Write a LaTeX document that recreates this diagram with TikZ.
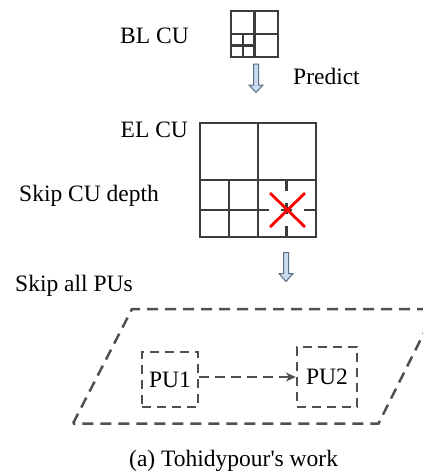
\documentclass[tikz,border=0pt]{standalone}
\usepackage{fontspec}
\setmainfont{Liberation Serif}
\usetikzlibrary{arrows.meta}
\definecolor{gridc}{HTML}{3C3C3C}
\definecolor{dashc}{HTML}{505050}
\definecolor{arrfill}{HTML}{C9DAEE}
\definecolor{arrline}{HTML}{5A6E86}
\tikzset{
  lbl/.style={anchor=base west, inner sep=0pt, font=\fontsize{23.5}{26}\selectfont},
  gridbox/.style={draw=gridc, line width=2.2pt, inner sep=0pt},
  gridline/.style={draw=gridc, line width=2.2pt},
  splitline/.style={draw=gridc, line width=2.2pt, dash pattern=on 11pt off 12pt},
  pubox/.style={draw=dashc, line width=2.4pt, dash pattern=on 9pt off 6pt, inner sep=0pt,
                font=\fontsize{23.5}{26}\selectfont},
  blockarrow/.style={draw=arrline, fill=arrfill, line width=1pt, line join=miter},
  planedash/.style={draw=dashc, line width=2.5pt, dash pattern=on 11pt off 7pt},
}
\begin{document}
\begin{tikzpicture}[x=1pt,y=-1pt]
\useasboundingbox (0,0) rectangle (423,475);
\clip (0,0) rectangle (423,475);
% labels
\node[lbl] (blcu) at (120,43) {BL CU};
\node[lbl] (pred) at (293,84) {Predict};
\node[lbl] (elcu) at (120.5,137) {EL CU};
\node[lbl] (skipcu) at (19,201.5) {Skip CU depth};
\node[lbl] (skippu) at (15,291.5) {Skip all PUs};
\node[lbl] (cap) at (129,466.5) {(a) Tohidypour\textquotesingle s work};
% BL CU grid
\node[gridbox, minimum width=47pt, minimum height=46pt] (bl) at (254.5,34) {};
\draw[gridline] (bl.north) -- (bl.south);
\draw[gridline] (bl.west) -- (bl.east);
\draw[gridline] (242.75,34) -- (242.75,57);
\draw[gridline] (231,45.5) -- (254.5,45.5);
% arrow 1
\draw[blockarrow] (253.5,64) -- (258.5,64) -- (258.5,85) -- (263,85) -- (256,92.5) -- (249,85) -- (253.5,85) -- cycle;
% EL CU grid
\node[gridbox, minimum width=116pt, minimum height=114pt] (el) at (258,180) {};
\draw[gridline] (el.north) -- (el.south);
\draw[gridline] (el.west) -- (el.east);
\draw[gridline] (229,180) -- (229,237);
\draw[gridline] (200,210) -- (258,210);
\draw[splitline] (286.5,180) -- (286.5,237);
\draw[splitline] (258,210) -- (316,210);
% red cross
\draw[red, line width=2.8pt] (270,193) -- (305,227);
\draw[red, line width=2.8pt] (270,227) -- (305,193);
% arrow 2
\draw[blockarrow] (283.5,252.5) -- (288.5,252.5) -- (288.5,273.5) -- (293,273.5) -- (286,281.5) -- (279,273.5) -- (283.5,273.5) -- cycle;
% PU plane
\draw[planedash] (73,423.5) -- (132,309) -- (436,309) -- (378.5,423.5) -- cycle;
\node[pubox, minimum width=56pt, minimum height=55pt] (pu1) at (170,379.5) {PU1};
\node[pubox, minimum width=60pt, minimum height=60pt] (pu2) at (327,377) {PU2};
\draw[draw=dashc, line width=2.2pt, dash pattern=on 10pt off 6pt, -{Stealth[length=10pt,width=9pt]}]
  (pu1.east |- 0,377) -- (pu2.west);
\end{tikzpicture}
\end{document}
